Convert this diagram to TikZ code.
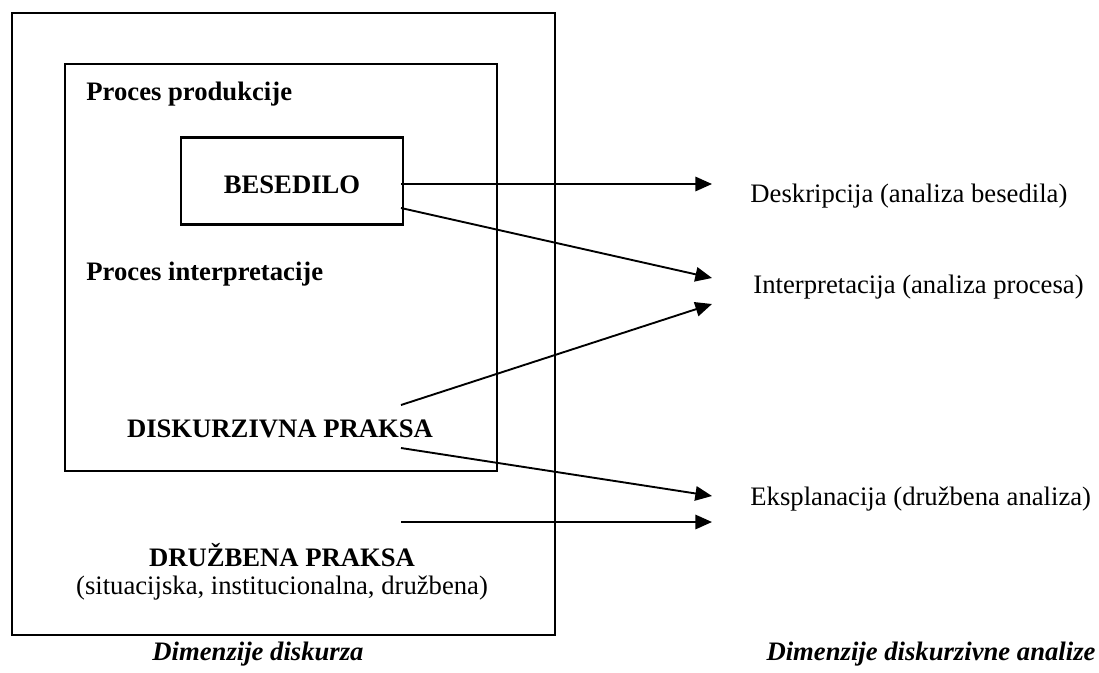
\documentclass[tikz,border=0pt]{standalone}
\usepackage{fontspec}
\setmainfont{Liberation Serif}
\usepackage{tikz}
\usetikzlibrary{arrows.meta}

\tikzset{
  frame/.style={line width=1.1pt},
  txt/.style={inner sep=0pt,font=\fontsize{12}{14}\selectfont},
  hdr/.style={inner sep=0pt,font=\fontsize{12}{14}\selectfont\bfseries},
  ital/.style={inner sep=0pt,font=\fontsize{12}{14}\selectfont\bfseries\itshape},
  arr/.style={line width=0.85pt,-{Triangle[length=7.5pt,width=6.5pt]}}
}

\begin{document}
\begin{tikzpicture}[x=0.45pt,y=-0.45pt]
   \useasboundingbox (0,0) rectangle (1099,672);
   % okvirji
   \draw[frame] (12,13) rectangle (555,635);
   \draw[frame] (65,64) rectangle (497,471);
   \node[draw,frame,hdr,minimum width=99.9pt,minimum height=39.2pt,text height=10.8pt,text depth=0pt] (besedilo) at (292,181) {BESEDILO};
   % dimenzije diskurza
   \node[hdr,anchor=base west] (produkcija) at (86,100) {Proces produkcije};
   \node[hdr,anchor=base west] (interpretacija) at (86,280) {Proces interpretacije};
   \node[hdr,anchor=base] (diskurzivna) at (280,437) {DISKURZIVNA PRAKSA};
   \node[hdr,anchor=base] (druzbena) at (282,566) {DRUŽBENA PRAKSA};
   \node[txt,anchor=base] (ravni) at (282,594) {(situacijska, institucionalna, družbena)};
   % dimenzije analize
   \node[txt,anchor=base west] (deskripcija) at (750,202) {Deskripcija (analiza besedila)};
   \node[txt,anchor=base west] (interp) at (753,293) {Interpretacija (analiza procesa)};
   \node[txt,anchor=base west] (eksplanacija) at (750,505) {Eksplanacija (družbena analiza)};
   % naslova
   \node[ital,anchor=base] (dimdiskurza) at (258,660) {Dimenzije diskurza};
   \node[ital,anchor=base] (dimanalize) at (931,660) {Dimenzije diskurzivne analize};
   % puscice
   \coordinate (z1) at (401,184); \coordinate (k1) at (712,184);
   \coordinate (z2) at (401,208); \coordinate (k2) at (712,278);
   \coordinate (z3) at (401,405); \coordinate (k3) at (712,304);
   \coordinate (z4) at (401,448); \coordinate (k4) at (712,496);
   \coordinate (z5) at (401,522); \coordinate (k5) at (712,522);
   \draw[arr] (z1) -- (k1);
   \draw[arr] (z2) -- (k2);
   \draw[arr] (z3) -- (k3);
   \draw[arr] (z4) -- (k4);
   \draw[arr] (z5) -- (k5);
\end{tikzpicture}
\end{document}
